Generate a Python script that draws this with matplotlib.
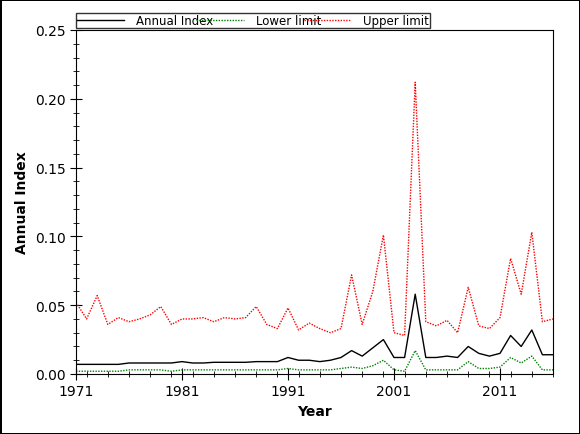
import matplotlib
matplotlib.use("Agg")
import matplotlib.pyplot as plt
from matplotlib.ticker import MultipleLocator

years = list(range(1971, 2017))
annual = [0.007,0.007,0.007,0.007,0.007,0.008,0.008,0.008,0.008,0.008,
          0.009,0.008,0.008,0.0085,0.0085,0.0085,0.0085,0.009,0.009,0.009,
          0.012,0.010,0.010,0.009,0.010,0.012,0.017,0.013,0.019,0.025,
          0.012,0.012,0.058,0.012,0.012,0.013,0.012,0.020,0.015,0.013,
          0.015,0.028,0.020,0.032,0.014,0.014]
lower = [0.002,0.002,0.002,0.002,0.002,0.003,0.003,0.003,0.003,0.002,
         0.003,0.003,0.003,0.003,0.003,0.003,0.003,0.003,0.003,0.003,
         0.004,0.003,0.003,0.003,0.003,0.004,0.005,0.004,0.006,0.010,
         0.003,0.002,0.017,0.003,0.003,0.003,0.003,0.009,0.004,0.004,
         0.005,0.012,0.008,0.013,0.003,0.003]
upper = [0.052,0.040,0.057,0.036,0.041,0.038,0.040,0.043,0.049,0.036,
         0.040,0.040,0.041,0.038,0.041,0.040,0.041,0.049,0.036,0.033,
         0.048,0.032,0.037,0.033,0.030,0.033,0.072,0.036,0.060,0.101,
         0.030,0.028,0.212,0.038,0.035,0.039,0.030,0.063,0.035,0.033,
         0.041,0.084,0.058,0.103,0.038,0.040]
xticks = [1971, 1981, 1991, 2001, 2011]

fig = plt.figure(figsize=(5.8, 4.35), dpi=100)
fig.patch.set_edgecolor('black'); fig.patch.set_linewidth(1)
ax = fig.add_axes([76/580, 1-375/435, (553-76)/580, (375-31)/435])
ax.plot(years, annual, color='black', lw=1, label='Annual Index')
ax.plot(years, lower, color='green', lw=1, ls=(0, (1, 1)), label='Lower limit')
ax.plot(years, upper, color='red', lw=1, ls=(0, (1, 1)), label='Upper limit')
ax.set_xlim(1971, 2016)
ax.set_ylim(0, 0.25)
ax.set_xticks(xticks)
ax.xaxis.set_minor_locator(MultipleLocator(2))
ax.yaxis.set_major_locator(MultipleLocator(0.05))
ax.yaxis.set_minor_locator(MultipleLocator(0.01))
ax.yaxis.set_major_formatter(matplotlib.ticker.FormatStrFormatter('%.2f'))
ax.tick_params(which='both', direction='inout', labelsize=10)
ax.tick_params(which='major', length=8)
ax.tick_params(which='minor', length=5)
ax.set_xlabel('Year', fontweight='bold', fontsize=10)
ax.set_ylabel('Annual Index', fontweight='bold', fontsize=10)
leg = ax.legend(loc='lower left', bbox_to_anchor=(0, 1.005, 354/477, 0.05), mode='expand',
                ncol=3, frameon=True, fancybox=False, fontsize=8.5, borderpad=0.1,
                handlelength=4, handletextpad=1, columnspacing=1, borderaxespad=0)
leg.get_frame().set_edgecolor('black'); leg.get_frame().set_linewidth(1)
fig.savefig('out.png', dpi=100, edgecolor=fig.get_edgecolor())
